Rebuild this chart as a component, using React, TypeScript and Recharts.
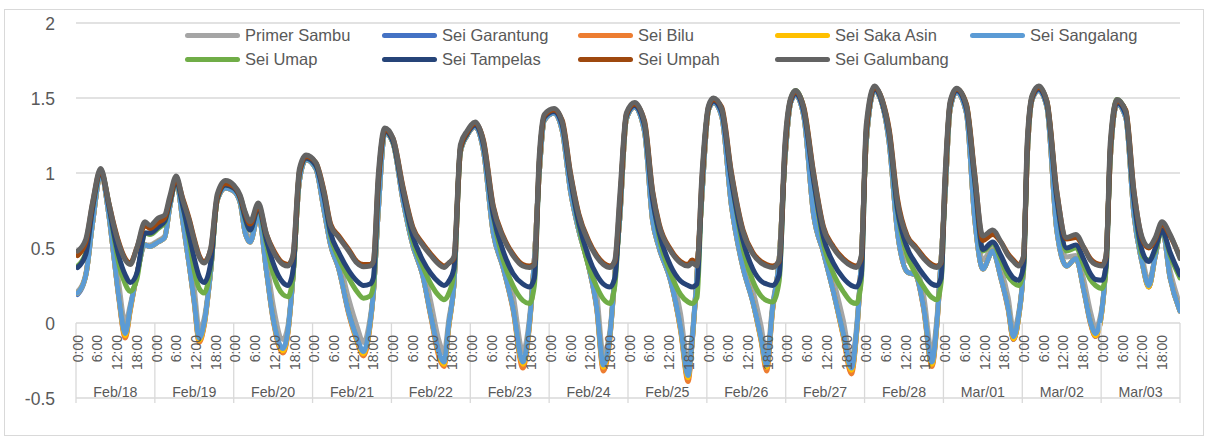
import React from "react";
import { LineChart, Line, XAxis, YAxis, CartesianGrid } from "recharts";

// ---- categories ----
const dayLabels = ["Feb/18","Feb/19","Feb/20","Feb/21","Feb/22","Feb/23","Feb/24","Feb/25","Feb/26","Feb/27","Feb/28","Mar/01","Mar/02","Mar/03"];
const hourLabels = ["0:00","6:00","12:00","18:00"];
const yTicks = [-0.5, 0, 0.5, 1, 1.5, 2];

// hours since Feb/18 0:00 at which the levels were read
const hours = [
  0,2.5,4.5,7,9.5,11,12.5,14.5,16,18,20.5,22,
  24.5,26.5,28,30,32,34,35.5,37,38.5,40.5,42.5,45,47.5,
  49.5,51,52.5,55,57.5,59.5,62.5,64,65.5,67.5,69.5,
  72.5,75,77,79.5,82.5,85,87,89,90,91.5,93.5,
  96,99,102,105,107.5,110,111.5,113,114.5,116.5,118.5,
  121,123.5,126.5,129.5,132.5,135.5,137.5,139,140.5,142,
  145,147.5,150,152.5,155.5,158,160,162,163.5,165,167,
  169.5,172.5,175,177,180.5,183.5,185.8,187,188.5,190,192,
  193.5,196,199,202.5,205.5,208,209.7,211.5,213.5,215.3,217,
  218.5,221,224,227,230,233,235.5,237,238.5,240,
  242.5,245,247,249.5,252.5,255,257.5,260,261.5,262.8,264,265.5,
  267.5,270.5,273,275.5,278.5,281,283.2,284.8,286.4,287.9,
  289,290.5,292.5,295,298,301,303.8,306.3,308.2,309.8,311.8,
  313,314.3,316.3,319,321.5,324,326,328,330,332.5,335.5,
];

// ---- series values (m) ----
const primerSambu = [
  .21,.33,.66,.99,.76,.52,.27,.00,.12,.32,.52,.52,
  .55,.58,.77,.95,.72,.46,.23,-.04,.03,.35,.82,.90,.88,
  .81,.63,.56,.73,.42,.12,-.11,-.02,.30,.95,1.09,
  1.03,.79,.56,.42,.16,-.02,-.13,.03,.20,.75,1.27,
  1.20,.85,.56,.40,.14,-.12,-.20,.03,.25,1.14,1.25,
  1.31,1.17,.66,.45,.19,-.19,.03,.42,1.00,1.35,
  1.40,1.30,.92,.66,.45,.19,-.21,-.05,.32,.70,1.36,
  1.44,1.30,.74,.56,.36,.06,-.27,-.09,.32,.85,1.42,
  1.47,1.40,.84,.45,.22,-.02,-.22,.12,.42,1.10,1.47,
  1.52,1.40,.78,.53,.29,.02,-.24,-.04,.42,1.20,
  1.55,1.45,1.23,.67,.42,.38,.18,-.20,.03,.42,.85,1.42,
  1.54,1.42,.76,.42,.50,.36,.17,-.04,.07,.40,
  1.10,1.49,1.55,1.45,.68,.44,.45,.28,.08,-.03,.11,
  .42,1.10,1.46,1.39,.76,.44,.28,.45,.64,.35,.12,
];
const seiGarantung = [
  .19,.32,.66,.99,.72,.45,.18,-.09,.09,.32,.52,.51,
  .54,.57,.77,.95,.68,.38,.14,-.12,-.01,.35,.82,.90,.88,
  .80,.60,.54,.72,.34,.03,-.19,-.06,.30,.95,1.09,
  1.03,.75,.52,.36,.07,-.11,-.21,-.01,.20,.75,1.27,
  1.20,.82,.52,.32,.05,-.21,-.28,-.01,.25,1.14,1.25,
  1.31,1.15,.60,.37,.10,-.28,-.01,.42,1.00,1.35,
  1.40,1.28,.88,.62,.38,.10,-.30,-.09,.32,.70,1.36,
  1.44,1.28,.68,.50,.28,-.04,-.37,-.13,.32,.85,1.42,
  1.47,1.38,.78,.37,.14,-.11,-.30,.09,.42,1.10,1.47,
  1.52,1.38,.72,.47,.21,-.08,-.32,-.08,.42,1.20,
  1.55,1.45,1.20,.61,.34,.32,.10,-.28,-.01,.42,.85,1.42,
  1.54,1.40,.70,.36,.48,.30,.10,-.11,.04,.40,
  1.10,1.49,1.55,1.44,.62,.38,.43,.21,.01,-.09,.09,
  .42,1.10,1.46,1.37,.72,.40,.24,.45,.64,.30,.08,
];
const seiBilu = [
  .20,.32,.66,.99,.72,.45,.17,-.10,.08,.32,.52,.51,
  .54,.57,.77,.95,.68,.38,.13,-.13,-.02,.35,.82,.90,.88,
  .80,.60,.54,.72,.34,.02,-.20,-.07,.30,.95,1.09,
  1.03,.75,.52,.36,.06,-.12,-.22,-.02,.20,.75,1.27,
  1.20,.82,.52,.32,.04,-.23,-.29,-.02,.25,1.14,1.25,
  1.31,1.15,.60,.37,.09,-.30,-.02,.42,1.00,1.35,
  1.40,1.28,.88,.62,.38,.09,-.32,-.10,.32,.70,1.36,
  1.44,1.28,.68,.50,.28,-.05,-.39,-.14,.32,.85,1.42,
  1.47,1.38,.78,.37,.14,-.12,-.32,.08,.42,1.10,1.47,
  1.52,1.38,.72,.47,.21,-.09,-.34,-.09,.42,1.20,
  1.55,1.45,1.20,.61,.34,.32,.09,-.29,-.02,.42,.85,1.42,
  1.54,1.40,.70,.36,.48,.30,.09,-.11,.04,.40,
  1.10,1.49,1.55,1.44,.62,.38,.43,.21,.00,-.09,.09,
  .42,1.10,1.46,1.37,.72,.40,.24,.45,.64,.30,.08,
];
const seiSakaAsin = [
  .20,.32,.66,.99,.72,.45,.18,-.085,.09,.32,.52,.51,
  .54,.57,.77,.95,.68,.38,.14,-.115,-.01,.35,.82,.90,.88,
  .80,.60,.54,.72,.34,.03,-.185,-.06,.30,.95,1.09,
  1.03,.75,.52,.36,.07,-.11,-.205,-.01,.20,.75,1.27,
  1.20,.82,.52,.32,.05,-.21,-.275,-.01,.25,1.14,1.25,
  1.31,1.15,.60,.37,.10,-.275,-.01,.42,1.00,1.35,
  1.40,1.28,.88,.62,.38,.10,-.295,-.09,.32,.70,1.36,
  1.44,1.28,.68,.50,.28,-.04,-.365,-.13,.32,.85,1.42,
  1.47,1.38,.78,.37,.14,-.11,-.295,.09,.42,1.10,1.47,
  1.52,1.38,.72,.47,.21,-.08,-.315,-.08,.42,1.20,
  1.55,1.45,1.20,.61,.34,.32,.10,-.275,-.01,.42,.85,1.42,
  1.54,1.40,.70,.36,.48,.30,.10,-.105,.04,.40,
  1.10,1.49,1.55,1.44,.62,.38,.43,.21,.01,-.085,.09,
  .42,1.10,1.46,1.37,.72,.40,.24,.45,.64,.30,.08,
];
const seiSangalang = [
  .20,.32,.66,.99,.72,.45,.18,-.07,.10,.32,.52,.51,
  .54,.57,.77,.95,.68,.38,.14,-.10,.00,.35,.82,.90,.88,
  .80,.60,.54,.72,.34,.03,-.17,-.05,.30,.95,1.09,
  1.03,.75,.52,.36,.07,-.10,-.19,.00,.20,.75,1.27,
  1.20,.82,.52,.32,.05,-.20,-.26,.00,.25,1.14,1.25,
  1.31,1.15,.60,.37,.10,-.26,.00,.42,1.00,1.35,
  1.40,1.28,.88,.62,.38,.10,-.28,-.08,.32,.70,1.36,
  1.44,1.28,.68,.50,.28,-.03,-.35,-.12,.32,.85,1.42,
  1.47,1.38,.78,.37,.14,-.10,-.28,.10,.42,1.10,1.47,
  1.52,1.38,.72,.47,.21,-.07,-.30,-.07,.42,1.20,
  1.55,1.45,1.20,.61,.34,.32,.10,-.26,.00,.42,.85,1.42,
  1.54,1.40,.70,.36,.48,.30,.10,-.09,.05,.40,
  1.10,1.49,1.55,1.44,.62,.38,.43,.21,.01,-.07,.10,
  .42,1.10,1.46,1.37,.72,.40,.25,.45,.64,.30,.08,
];
const seiUmap = [
  .38,.47,.76,1.01,.79,.58,.40,.26,.21,.29,.60,.59,
  .63,.67,.80,.95,.78,.55,.35,.23,.20,.38,.83,.92,.90,
  .83,.69,.62,.77,.52,.33,.19,.175,.30,1.0,1.10,
  1.05,.85,.58,.43,.30,.21,.165,.18,.25,.92,1.28,
  1.21,.88,.55,.38,.26,.18,.155,.20,.33,1.16,1.26,
  1.33,1.20,.71,.42,.25,.15,.13,.25,1.06,1.37,
  1.42,1.33,.97,.65,.38,.24,.16,.13,.25,.76,1.38,
  1.46,1.33,.84,.57,.33,.19,.14,.13,.17,.92,1.43,
  1.49,1.42,.96,.50,.28,.18,.15,.14,.28,1.15,1.49,
  1.55,1.43,.96,.53,.33,.21,.14,.13,.28,1.26,
  1.57,1.47,1.27,.75,.45,.33,.24,.17,.155,.27,.92,1.45,
  1.56,1.45,.96,.48,.53,.42,.31,.27,.25,.35,
  1.15,1.51,1.57,1.47,.84,.48,.50,.38,.29,.25,.23,
  .35,1.15,1.49,1.41,.83,.45,.42,.48,.62,.45,.30,
];
const seiTampelas = [
  .37,.46,.76,1.01,.78,.60,.45,.32,.27,.33,.60,.60,
  .64,.68,.80,.95,.78,.58,.43,.31,.27,.40,.83,.92,.90,
  .83,.70,.62,.77,.55,.40,.27,.25,.34,1.0,1.10,
  1.05,.84,.60,.47,.35,.28,.25,.26,.30,.92,1.28,
  1.21,.87,.58,.42,.33,.27,.25,.28,.36,1.16,1.26,
  1.32,1.19,.72,.48,.33,.26,.24,.30,1.06,1.37,
  1.41,1.32,.96,.67,.44,.32,.26,.24,.30,.76,1.38,
  1.45,1.32,.82,.60,.38,.28,.25,.24,.26,.92,1.43,
  1.48,1.41,.95,.55,.36,.28,.26,.25,.32,1.15,1.48,
  1.53,1.41,.95,.57,.40,.30,.25,.24,.32,1.26,
  1.56,1.46,1.26,.76,.50,.40,.32,.26,.25,.30,.92,1.45,
  1.55,1.43,.95,.49,.54,.45,.35,.30,.285,.38,
  1.15,1.50,1.56,1.46,.83,.50,.52,.42,.33,.29,.285,
  .38,1.15,1.47,1.39,.82,.48,.41,.50,.62,.47,.32,
];
const seiUmpah = [
  .45,.54,.79,1.02,.80,.66,.54,.43,.40,.50,.65,.63,
  .67,.70,.82,.96,.83,.69,.56,.45,.41,.49,.84,.93,.91,
  .84,.73,.66,.78,.59,.49,.40,.39,.44,1.01,1.11,
  1.07,.88,.66,.58,.49,.41,.39,.39,.41,.95,1.29,
  1.23,.91,.64,.53,.46,.40,.38,.40,.43,1.17,1.27,
  1.33,1.22,.78,.58,.46,.39,.38,.39,1.08,1.38,
  1.42,1.35,1.0,.73,.55,.45,.40,.38,.41,.80,1.39,
  1.46,1.35,.88,.66,.49,.41,.39,.42,.40,.95,1.44,
  1.49,1.44,1.0,.62,.47,.41,.39,.38,.41,1.17,1.49,
  1.54,1.44,1.0,.64,.51,.43,.39,.38,.43,1.28,
  1.57,1.48,1.29,.83,.58,.51,.44,.39,.38,.40,.95,1.46,
  1.56,1.46,1.0,.55,.59,.54,.46,.42,.39,.44,
  1.17,1.51,1.57,1.48,.88,.56,.57,.50,.43,.40,.39,
  .44,1.17,1.48,1.42,.88,.56,.50,.56,.66,.58,.44,
];
const seiGalumbang = [
  .48,.56,.80,1.03,.80,.65,.53,.42,.39,.50,.675,.65,
  .70,.72,.84,.98,.82,.68,.55,.44,.40,.50,.86,.95,.92,
  .85,.74,.675,.80,.59,.48,.39,.38,.45,1.03,1.12,
  1.07,.87,.65,.57,.48,.40,.375,.38,.41,.99,1.30,
  1.23,.90,.63,.52,.45,.39,.37,.40,.44,1.19,1.28,
  1.34,1.21,.77,.57,.45,.38,.37,.39,1.12,1.39,
  1.43,1.34,.99,.72,.54,.44,.39,.37,.42,.85,1.40,
  1.47,1.34,.87,.65,.48,.40,.38,.40,.38,.99,1.45,
  1.50,1.43,.99,.61,.46,.40,.38,.37,.42,1.21,1.50,
  1.55,1.43,.99,.63,.50,.42,.38,.37,.45,1.32,
  1.58,1.475,1.275,.81,.57,.50,.43,.38,.37,.41,.99,1.475,
  1.565,1.45,.99,.58,.62,.54,.45,.41,.38,.45,
  1.21,1.52,1.58,1.475,.875,.57,.59,.50,.42,.39,.38,
  .45,1.21,1.49,1.41,.875,.57,.51,.57,.675,.59,.43,
];

const seriesNames = ["Primer Sambu","Sei Garantung","Sei Bilu","Sei Saka Asin","Sei Sangalang","Sei Umap","Sei Tampelas","Sei Umpah","Sei Galumbang"];
const seriesColors = ["#A5A5A5","#4472C4","#ED7D31","#FFC000","#5B9BD5","#70AD47","#264478","#9E480E","#636363"];
const seriesValues = [primerSambu, seiGarantung, seiBilu, seiSakaAsin, seiSangalang, seiUmap, seiTampelas, seiUmpah, seiGalumbang];

const rows = hours.map((h, i) => {
  const r: any = { h };
  seriesValues.forEach((vals, k) => { r["s" + k] = vals[i]; });
  return r;
});

// ---- layout ----
const W = 1210, H = 441;
const PLOT_TOP = 23, PLOT_BOTTOM = 398, PLOT_RIGHT = 1180, PLOT_LEFT = 76;
const Y_MIN = -0.5, Y_MAX = 2;
const Y0 = PLOT_TOP + (Y_MAX - 0) / (Y_MAX - Y_MIN) * (PLOT_BOTTOM - PLOT_TOP);
const FONT = "'Liberation Sans', Arial, sans-serif";
const TEXT = "#595959";
const GRID = "#d9d9d9";

type TickInfo = { kind: "sep" | "day" | "hour"; label?: string };
const tickInfo = new Map<number, TickInfo>();
const xTicks: number[] = [];
dayLabels.forEach((d, i) => {
  const start = i * 24;
  tickInfo.set(start - 0.5, { kind: "sep" }); xTicks.push(start - 0.5);
  hourLabels.forEach((hl, j) => { tickInfo.set(start + j * 6, { kind: "hour", label: hl }); xTicks.push(start + j * 6); });
  tickInfo.set(start + 11.5, { kind: "day", label: d }); xTicks.push(start + 11.5);
});
tickInfo.set(dayLabels.length * 24 - 0.5, { kind: "sep" }); xTicks.push(dayLabels.length * 24 - 0.5);

const XTick = (props: any) => {
  const { x, payload } = props;
  const info = tickInfo.get(payload.value);
  if (!info) return null;
  if (info.kind === "sep") {
    return <line x1={x} x2={x} y1={Y0} y2={PLOT_BOTTOM + 5} stroke={GRID} strokeWidth={1.3} />;
  }
  if (info.kind === "day") {
    return <text x={x} y={PLOT_BOTTOM - 1} textAnchor="middle" fill={TEXT} fontSize={14.2} fontFamily={FONT}>{info.label}</text>;
  }
  const top = Y0 + 12;
  return (
    <text x={x} y={top} transform={`rotate(-90 ${x} ${top})`} textAnchor="end" dominantBaseline="central"
      fill={TEXT} fontSize={14} fontFamily={FONT}>{info.label}</text>
  );
};

const YTick = (props: any) => {
  const { y, payload } = props;
  return <text x={55} y={y + 6.5} textAnchor="end" fill={TEXT} fontSize={17.5} fontFamily={FONT}>{String(payload.value)}</text>;
};

const legendCols = [185, 382, 578, 775, 970];
const legendRows = [35, 59];

export default function App() {
  return (
    <div style={{ position: "absolute", left: 0, top: 0, width: W, height: H, background: "#fff" }}>
      <div style={{ position: "absolute", left: 4, top: 9, width: 1200, height: 427, border: `1px solid ${GRID}`, boxSizing: "border-box" }} />
      <div style={{ position: "absolute", left: 0, top: 0 }}>
        <LineChart width={W} height={H} data={rows}
          margin={{ top: PLOT_TOP, right: W - PLOT_RIGHT, left: PLOT_LEFT - 60, bottom: H - PLOT_BOTTOM - 1 }}>
          <CartesianGrid vertical={false} stroke={GRID} strokeWidth={1.3} />
          <YAxis type="number" domain={[Y_MIN, Y_MAX]} ticks={yTicks} width={60} axisLine={false} tickLine={false} tick={<YTick />} interval={0} />
          {seriesNames.map((n, k) => (
            <Line key={n} name={n} dataKey={"s" + k} type="monotone" stroke={seriesColors[k]} strokeWidth={5}
              strokeLinejoin="round" strokeLinecap="round" dot={false} activeDot={false} isAnimationActive={false} />
          ))}
          <XAxis dataKey="h" type="number" domain={[-0.5, 335.5]} ticks={xTicks} interval={0} height={1}
            axisLine={false} tickLine={false} tick={<XTick />} allowDataOverflow />
        </LineChart>
      </div>
      {seriesNames.map((n, k) => {
        const col = k < 5 ? k : k - 5;
        const row = k < 5 ? 0 : 1;
        const x = legendCols[col];
        const y = legendRows[row];
        return (
          <div key={n} style={{ position: "absolute", left: x, top: y - 12, height: 24, display: "flex", alignItems: "center", whiteSpace: "nowrap" }}>
            <div style={{ width: 55, height: 5, borderRadius: 3, background: seriesColors[k] }} />
            <span style={{ marginLeft: 5, fontFamily: FONT, fontSize: 16.5, color: TEXT }}>{n}</span>
          </div>
        );
      })}
    </div>
  );
}
